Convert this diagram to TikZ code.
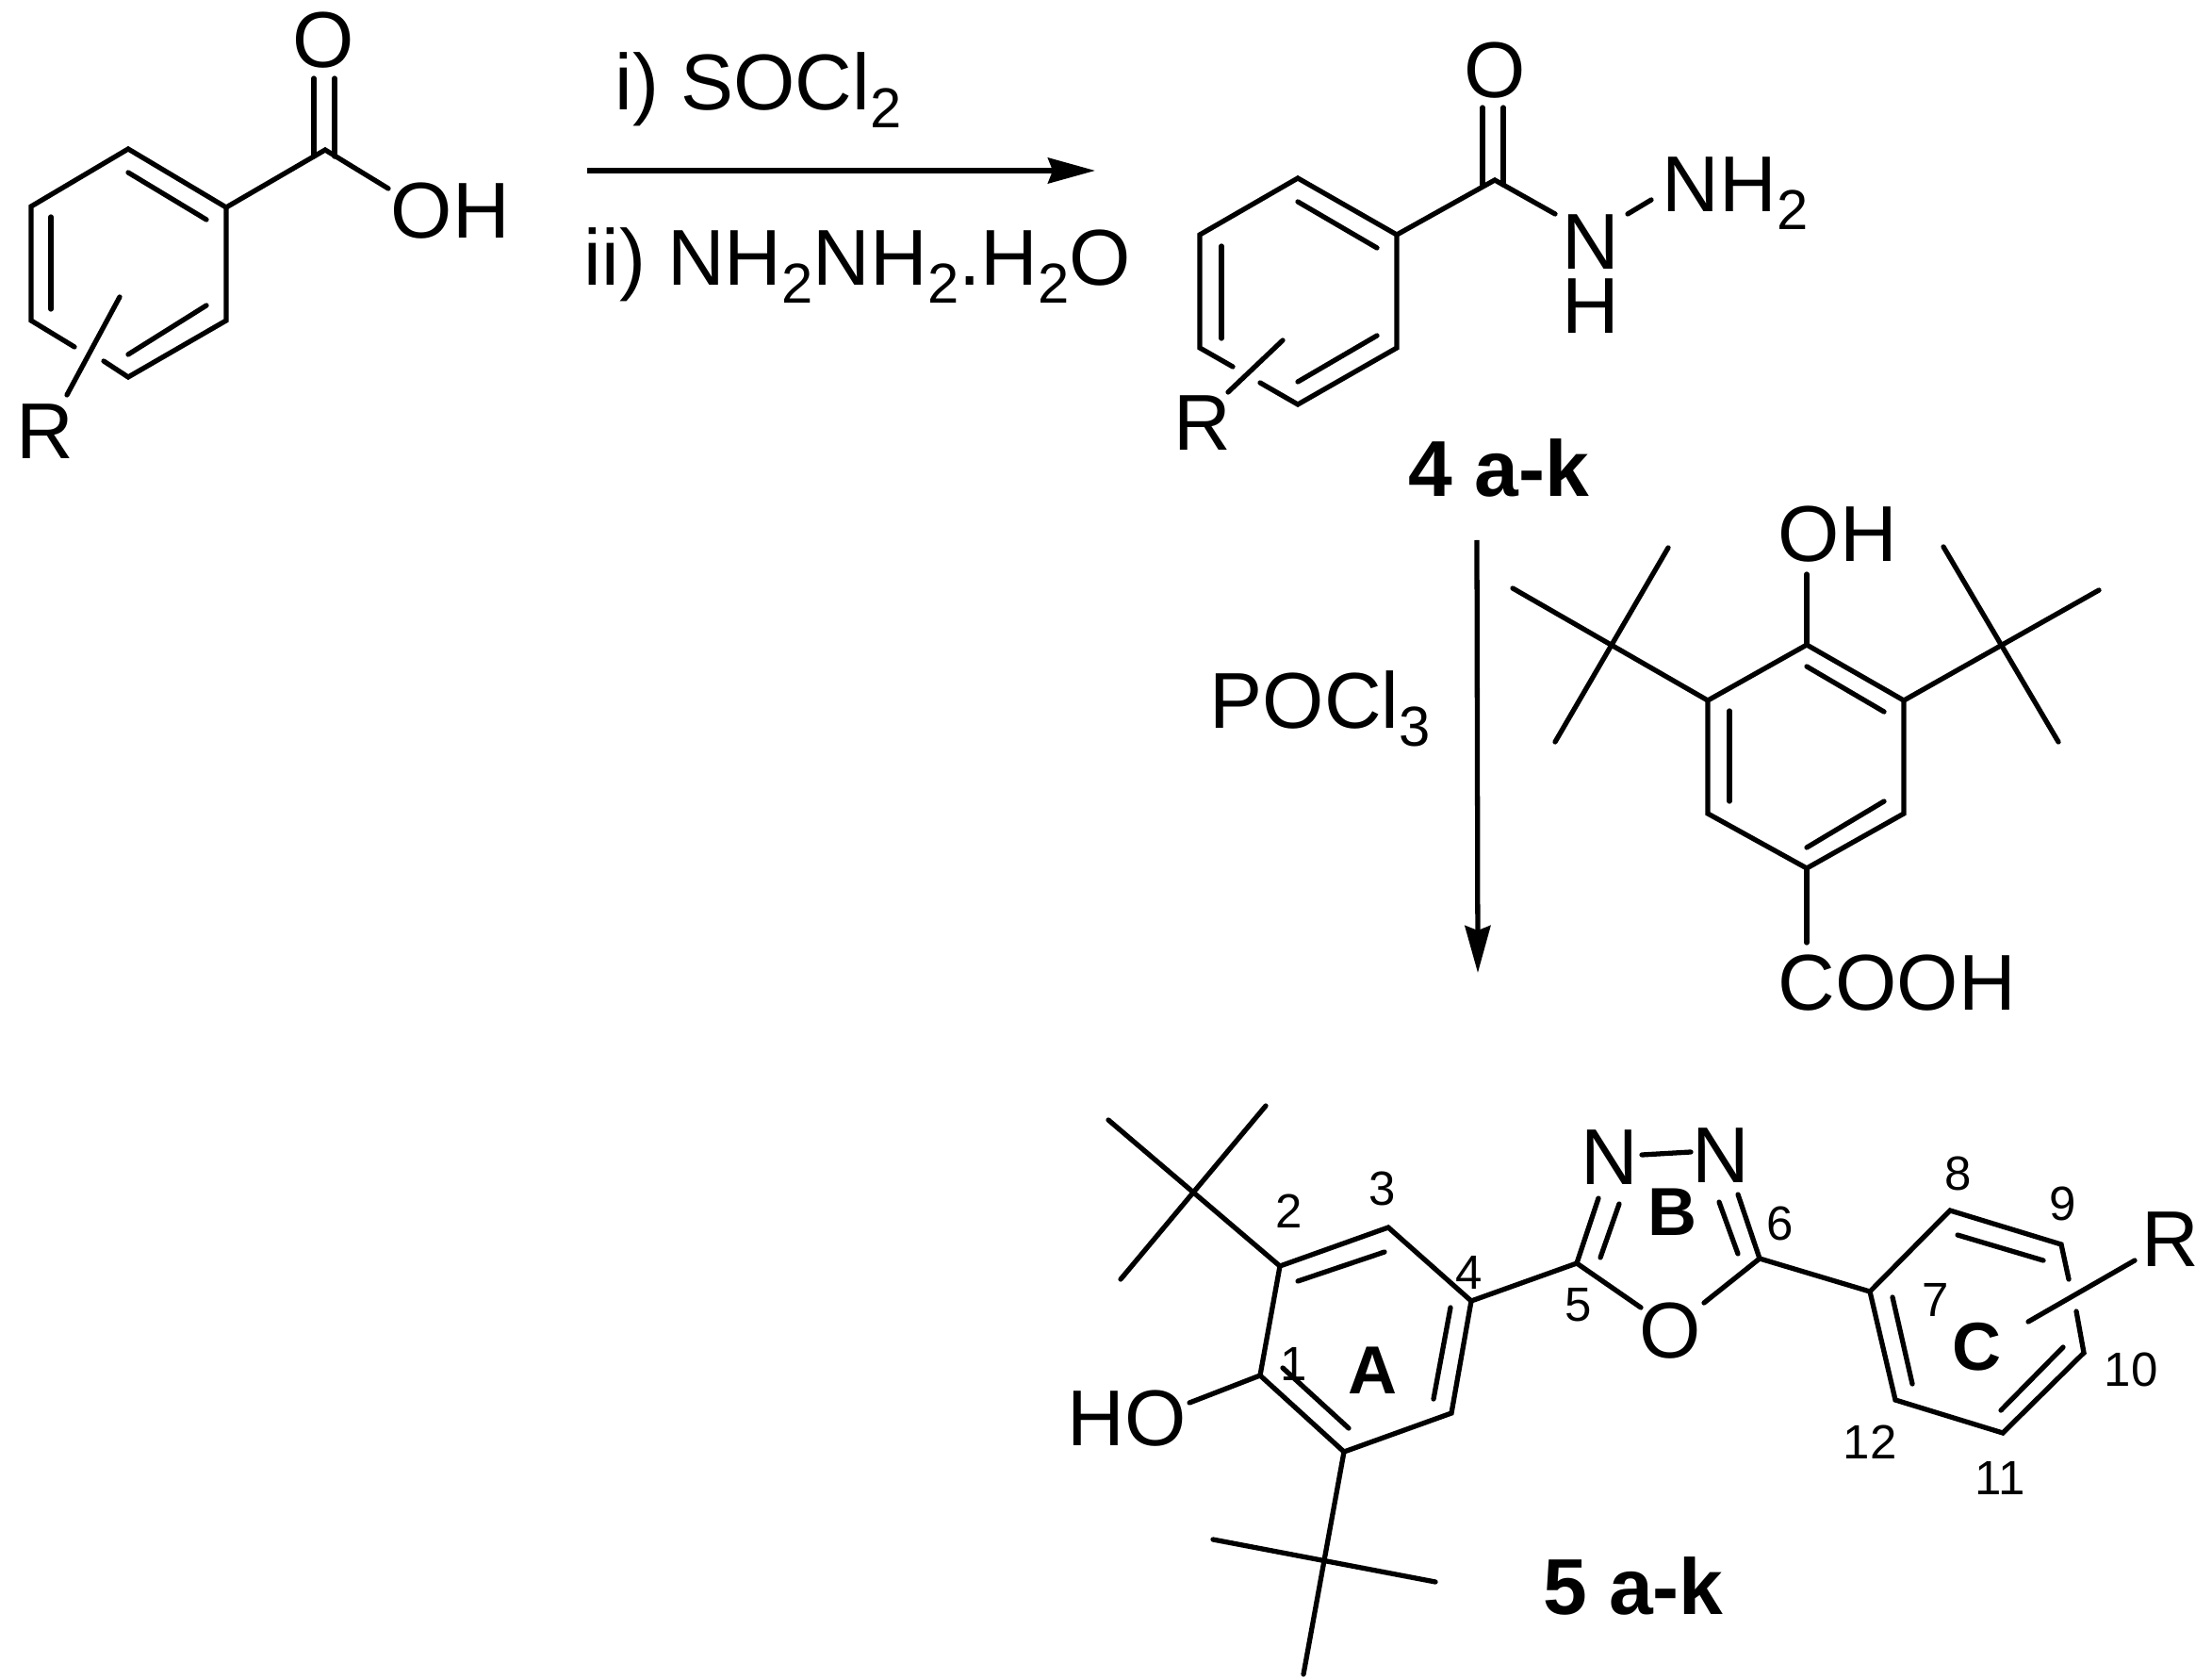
\documentclass[tikz,border=0pt]{standalone}
\usepackage{fontspec}
\setmainfont{Liberation Sans}
\usetikzlibrary{arrows.meta}
\newcommand{\chemsub}[1]{\raisebox{-5.4pt}{\fontsize{17pt}{20pt}\selectfont #1}}
\tikzstyle{every node}=[font=\fontsize{23.9pt}{28pt}\selectfont, inner sep=0pt]
\tikzset{
  bond/.style={line width=1.5pt, line cap=round},
  rxnarrow/.style={line width=1.5pt, -{Stealth[length=0.5cm,width=0.27cm,inset=0.05cm]}},
  numlabel/.style={font=\fontsize{14.5pt}{16pt}\selectfont},
  ringlabel/.style={font=\fontsize{20.5pt}{24pt}\selectfont\bfseries},
  cpdlabel/.style={font=\fontsize{23.9pt}{28pt}\selectfont\bfseries}
}

\begin{document}
\begin{tikzpicture}
    \useasboundingbox (0,0) rectangle (23.47,17.8);
    % benzoic acid
    \coordinate (ba) at (1.36,16.22); \coordinate (bb) at (2.40,15.60);
    \coordinate (bc) at (2.40,14.40); \coordinate (bd) at (1.36,13.80);
    \coordinate (be) at (0.33,14.40); \coordinate (bf) at (0.33,15.61);
    \coordinate (bco) at (3.45,16.21); \coordinate (boh) at (4.12,15.80);
    \coordinate (bo1) at (3.33,16.97); \coordinate (bo2) at (3.55,16.97);
    \coordinate (bc1) at (3.33,16.14); \coordinate (bc2) at (3.55,16.14);
    \coordinate (bi1) at (1.36,15.97); \coordinate (bi2) at (2.19,15.47);
    \coordinate (bi3) at (0.54,15.50); \coordinate (bi4) at (0.54,14.52);
    \coordinate (bi5) at (1.36,14.04); \coordinate (bi6) at (2.19,14.56);
    \coordinate (bg1) at (0.79,14.12); \coordinate (bg2) at (1.10,13.97);
    \coordinate (br1) at (1.27,14.65); \coordinate (br2) at (0.71,13.61);
    \draw[bond] (bg1) -- (be) -- (bf) -- (ba) -- (bb) -- (bc) -- (bd) -- (bg2);
    \draw[bond] (bb) -- (bco) -- (boh);
    \draw[bond] (bc1) -- (bo1);
    \draw[bond] (bc2) -- (bo2);
    \draw[bond] (bi1) -- (bi2);
    \draw[bond] (bi3) -- (bi4);
    \draw[bond] (bi5) -- (bi6);
    \draw[bond] (br1) -- (br2);
    \node[anchor=base] (bO) at (3.43,17.08){O};
    \node[anchor=base west] (bOH) at (4.14,15.27){OH};
    \node[anchor=base west] (bR) at (0.17,12.93){R};
    % first step
    \coordinate (ar1) at (6.23,15.99);
    \coordinate (ar2) at (11.62,15.99);
    \draw[rxnarrow] (ar1) -- (ar2);
    \node[anchor=base west] (socl) at (6.52,16.63){i) SOCl\chemsub{2}};
    \node[anchor=base west] (hydr) at (6.19,14.77){ii) NH\chemsub{2}NH\chemsub{2}.H\chemsub{2}O};
    % hydrazide
    \coordinate (ha) at (13.77,15.91); \coordinate (hb) at (14.82,15.31);
    \coordinate (hc) at (14.82,14.11); \coordinate (hd) at (13.77,13.51);
    \coordinate (he) at (12.73,14.11); \coordinate (hf) at (12.73,15.31);
    \coordinate (hco) at (15.86,15.89); \coordinate (hn1) at (16.50,15.53);
    \coordinate (hn2) at (17.27,15.53); \coordinate (hn3) at (17.52,15.68);
    \coordinate (ho1) at (15.73,16.66); \coordinate (ho2) at (15.95,16.66);
    \coordinate (hc1) at (15.73,15.84); \coordinate (hc2) at (15.95,15.84);
    \coordinate (hi1) at (13.77,15.66); \coordinate (hi2) at (14.61,15.17);
    \coordinate (hi3) at (12.96,15.19); \coordinate (hi4) at (12.96,14.21);
    \coordinate (hi5) at (13.77,13.75); \coordinate (hi6) at (14.61,14.24);
    \coordinate (hg1) at (13.08,13.91); \coordinate (hg2) at (13.37,13.74);
    \coordinate (hr1) at (13.61,14.19); \coordinate (hr2) at (13.03,13.64);
    \draw[bond] (hg1) -- (he) -- (hf) -- (ha) -- (hb) -- (hc) -- (hd) -- (hg2);
    \draw[bond] (hb) -- (hco) -- (hn1);
    \draw[bond] (hn2) -- (hn3);
    \draw[bond] (hc1) -- (ho1);
    \draw[bond] (hc2) -- (ho2);
    \draw[bond] (hi1) -- (hi2);
    \draw[bond] (hi3) -- (hi4);
    \draw[bond] (hi5) -- (hi6);
    \draw[bond] (hr1) -- (hr2);
    \node[anchor=base] (hO) at (15.86,16.76){O};
    \node[anchor=base] (hN) at (16.88,14.94){N};
    \node[anchor=base] (hH) at (16.88,14.26){H};
    \node[anchor=base west] (hNH) at (17.63,15.55){NH\chemsub{2}};
    \node[anchor=base west] (hR) at (12.45,13.02){R};
    \node[cpdlabel,anchor=base west] (cpdfour) at (14.94,12.53){4 a-k};
    % second step
    \coordinate (ar3) at (15.67,12.07);
    \coordinate (ar4) at (15.68,7.48);
    \draw[rxnarrow] (ar3) -- (ar4);
    \node[anchor=base west] (pocl) at (12.83,10.07){POCl\chemsub{3}};
    % hydroxybenzoic acid
    \coordinate (pa) at (19.17,10.96); \coordinate (pb) at (20.20,10.37);
    \coordinate (pc) at (20.20,9.17); \coordinate (pd) at (19.17,8.59);
    \coordinate (pe) at (18.12,9.17); \coordinate (pf) at (18.12,10.37);
    \coordinate (poh) at (19.17,11.71); \coordinate (pcooh) at (19.17,7.80);
    \coordinate (pl) at (17.09,10.94); \coordinate (pl1) at (16.05,11.56);
    \coordinate (pl2) at (17.70,11.99); \coordinate (pl3) at (16.50,9.93);
    \coordinate (pr) at (21.23,10.94); \coordinate (pr1) at (20.62,12.00);
    \coordinate (pr2) at (22.27,11.54); \coordinate (pr3) at (21.84,9.93);
    \coordinate (pi1) at (19.17,10.73); \coordinate (pi2) at (19.99,10.25);
    \coordinate (pi3) at (18.35,10.26); \coordinate (pi4) at (18.35,9.30);
    \coordinate (pi5) at (19.17,8.81); \coordinate (pi6) at (19.99,9.30);
    \draw[bond] (pa) -- (pb) -- (pc) -- (pd) -- (pe) -- (pf) -- cycle;
    \draw[bond] (poh) -- (pa);
    \draw[bond] (pd) -- (pcooh);
    \draw[bond] (pf) -- (pl1);
    \draw[bond] (pl2) -- (pl3);
    \draw[bond] (pb) -- (pr2);
    \draw[bond] (pr1) -- (pr3);
    \draw[bond] (pi1) -- (pi2);
    \draw[bond] (pi3) -- (pi4);
    \draw[bond] (pi5) -- (pi6);
    \node[anchor=base west] (pOH) at (18.86,11.84){OH};
    \node[anchor=base west] (pCOOH) at (18.86,7.09){COOH};
    % oxadiazole product
    \coordinate (qa) at (13.37,3.21); \coordinate (qb) at (13.58,4.37);
    \coordinate (qc) at (14.73,4.78); \coordinate (qd) at (15.61,4.00);
    \coordinate (qe) at (15.40,2.81); \coordinate (qf) at (14.26,2.40);
    \coordinate (qho) at (12.62,2.92);
    \coordinate (qt) at (12.65,5.15); \coordinate (qt1) at (11.76,5.92);
    \coordinate (qt2) at (13.43,6.07); \coordinate (qt3) at (11.89,4.23);
    \coordinate (qs) at (14.03,1.23); \coordinate (qs1) at (12.87,1.47);
    \coordinate (qs2) at (15.23,1.02); \coordinate (qs3) at (13.83,0.04);
    \coordinate (qi1) at (13.77,4.21); \coordinate (qi2) at (14.69,4.52);
    \coordinate (qi3) at (15.39,3.93); \coordinate (qi4) at (15.21,2.96);
    \coordinate (qi5) at (13.61,3.29); \coordinate (qi6) at (14.31,2.65);
    \coordinate (qg) at (16.73,4.40); \coordinate (qh) at (18.67,4.45);
    \coordinate (qo1) at (17.41,3.93); \coordinate (qo2) at (18.08,3.98);
    \coordinate (qn1) at (16.96,5.09); \coordinate (qn2) at (18.44,5.13);
    \coordinate (qn3) at (17.42,5.55); \coordinate (qn4) at (17.94,5.58);
    \coordinate (qj1) at (16.98,4.46); \coordinate (qj2) at (17.18,5.03);
    \coordinate (qj3) at (18.44,4.50); \coordinate (qj4) at (18.24,5.05);
    \coordinate (qk) at (19.84,4.10); \coordinate (ql) at (20.69,4.96);
    \coordinate (qm) at (21.87,4.60); \coordinate (qp) at (22.11,3.45);
    \coordinate (qq) at (21.25,2.60); \coordinate (qu) at (20.11,2.95);
    \coordinate (qv1) at (21.95,4.23); \coordinate (qv2) at (22.03,3.89);
    \coordinate (qw1) at (20.77,4.70); \coordinate (qw2) at (21.68,4.43);
    \coordinate (qw3) at (20.08,4.04); \coordinate (qw4) at (20.29,3.12);
    \coordinate (qw5) at (21.89,3.51); \coordinate (qw6) at (21.23,2.84);
    \coordinate (qr1) at (22.65,4.43); \coordinate (qr2) at (21.52,3.78);
    \draw[bond] (qa) -- (qb) -- (qc) -- (qd) -- (qe) -- (qf) -- cycle;
    \draw[bond] (qa) -- (qho);
    \draw[bond] (qb) -- (qt1);
    \draw[bond] (qt2) -- (qt3);
    \draw[bond] (qf) -- (qs3);
    \draw[bond] (qs1) -- (qs2);
    \draw[bond] (qi1) -- (qi2);
    \draw[bond] (qi3) -- (qi4);
    \draw[bond] (qi5) -- (qi6);
    \draw[bond] (qd) -- (qg) -- (qo1);
    \draw[bond] (qn1) -- (qg);
    \draw[bond] (qn3) -- (qn4);
    \draw[bond] (qn2) -- (qh) -- (qo2);
    \draw[bond] (qj1) -- (qj2);
    \draw[bond] (qj3) -- (qj4);
    \draw[bond] (qh) -- (qk);
    \draw[bond] (qv2) -- (qp) -- (qq) -- (qu) -- (qk) -- (ql) -- (qm) -- (qv1);
    \draw[bond] (qw1) -- (qw2);
    \draw[bond] (qw3) -- (qw4);
    \draw[bond] (qw5) -- (qw6);
    \draw[bond] (qr1) -- (qr2);
    \node[anchor=base west] (qHO) at (11.32,2.47){HO};
    \node[anchor=base] (qO) at (17.72,3.40){O};
    \node[anchor=base] (qNa) at (17.08,5.24){N};
    \node[anchor=base] (qNb) at (18.26,5.26){N};
    \node[anchor=base west] (qR) at (22.72,4.37){R};
    \node[ringlabel] (ringA) at (14.56,3.26){A};
    \node[ringlabel] (ringB) at (17.74,4.94){B};
    \node[ringlabel] (ringC) at (20.97,3.51){C};
    \foreach \n/\x/\y in {1/13.73/3.33,2/13.68/4.95,3/14.67/5.19,4/15.59/4.30,
        5/16.75/3.96,6/18.89/4.82,7/20.54/4.01,8/20.78/5.35,9/21.89/5.03,
        10/22.61/3.27,11/21.22/2.12,12/19.84/2.50}
        \node[numlabel] (num\n) at (\x,\y){\n};
    \node[cpdlabel,anchor=base] (cpdfive) at (17.33,0.68){5 a-k};
\end{tikzpicture}
\end{document}
